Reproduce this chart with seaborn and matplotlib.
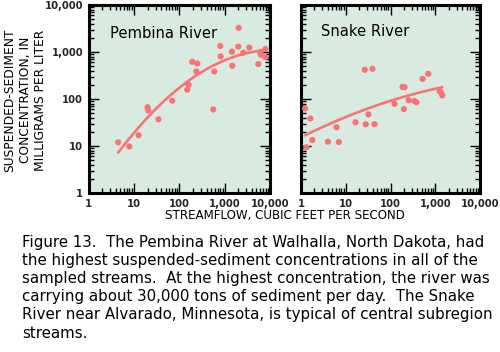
import numpy as np
import pandas as pd
import seaborn as sns
import matplotlib
matplotlib.use("Agg")
import matplotlib.pyplot as plt
from matplotlib.ticker import LogLocator, NullFormatter

# ---- data ----
pembina_flow = [4.5, 7.9, 12.7, 20, 20.7, 35, 70, 150, 161, 194, 250, 237, 562, 592,
                802, 815, 1475, 1450, 2035, 2000, 2580, 3500, 5530, 6120, 6280, 7890, 7890]
pembina_conc = [12, 9.8, 17, 67, 57, 37, 92, 158, 200, 620, 571, 385, 60, 385,
                1344, 807, 509, 1016, 3267, 1300, 968, 1240, 553, 1000, 877, 1158, 781]

snake_flow = [1.23, 1.32, 1.62, 1.79, 4.0, 6.2, 7.0, 16.5, 26.6, 28, 32, 39.5, 44,
              123, 186, 206, 199, 253, 339, 381, 520, 697, 1250, 1340, 1435]
snake_conc = [63, 9.4, 38.5, 13.4, 12.4, 25, 12.2, 32, 418, 29, 47, 440, 29,
              79, 181, 178, 61, 94, 91, 85, 268, 343, 148, 137, 120]

panel_titles = ["Pembina River", "Snake River"]
tick_values = [1, 10, 100, 1000, 10000]
tick_labels = ["1", "10", "100", "1,000", "10,000"]
ylabel_lines = ["SUSPENDED-SEDIMENT", "CONCENTRATION, IN", "MILLIGRAMS PER LITER"]
xlabel = "STREAMFLOW, CUBIC FEET PER SECOND"
caption_lines = [
    "Figure 13.  The Pembina River at Walhalla, North Dakota, had",
    "the highest suspended-sediment concentrations in all of the",
    "sampled streams.  At the highest concentration, the river was",
    "carrying about 30,000 tons of sediment per day.  The Snake",
    "River near Alvarado, Minnesota, is typical of central subregion",
    "streams.",
]

# ---- style ----
sns.set_theme(style="white")
plt.rcParams['font.family'] = ['DejaVu Sans']

W, H = 500, 352
fig = plt.figure(figsize=(W / 100, H / 100), dpi=100)
fig.patch.set_facecolor("white")

BG = "#d9ebe0"
PT = "#f87474"

def px_axes(x0, x1, y0, y1):
    return fig.add_axes([x0 / W, 1 - y1 / H, (x1 - x0) / W, (y1 - y0) / H])

axes = [px_axes(88.5, 270, 5, 193), px_axes(301, 480, 5, 193)]
datasets = [(pembina_flow, pembina_conc), (snake_flow, snake_conc)]
title_pos = [(110, 33), (321, 32)]

for i, (ax, (fx, cy)) in enumerate(zip(axes, datasets)):
    df = pd.DataFrame({"flow": fx, "conc": cy})
    ax.set_facecolor(BG)
    ax.set_xscale("log")
    ax.set_yscale("log")
    # quadratic fit in log-log space (trend line)
    lx, ly = np.log10(df["flow"]), np.log10(df["conc"])
    coef = np.polyfit(lx, ly, 2)
    grid = np.linspace(lx.min(), lx.max(), 100)
    fit = pd.DataFrame({"flow": 10 ** grid, "conc": 10 ** np.polyval(coef, grid)})
    sns.lineplot(data=fit, x="flow", y="conc", ax=ax, color=PT, lw=1.9, zorder=2)
    sns.scatterplot(data=df, x="flow", y="conc", ax=ax, color=PT, s=20,
                    edgecolor="none", zorder=3)
    ax.set_xlabel("")
    ax.set_ylabel("")
    for sp in ax.spines.values():
        sp.set_linewidth(2.2)
        sp.set_color("black")
    ax.xaxis.set_minor_locator(LogLocator(base=10, subs=np.arange(2, 10), numticks=20))
    ax.yaxis.set_minor_locator(LogLocator(base=10, subs=np.arange(2, 10), numticks=20))
    ax.xaxis.set_minor_formatter(NullFormatter())
    ax.yaxis.set_minor_formatter(NullFormatter())
    ax.set_xticks(tick_values, labels=tick_labels, fontweight="bold", fontsize=7.2)
    if i == 0:
        ax.set_yticks(tick_values, labels=tick_labels, fontweight="bold", fontsize=7.2)
    else:
        ax.set_yticks(tick_values, labels=[""] * len(tick_values))
    ax.set_xlim(1, 10000)
    ax.set_ylim(1, 10000)
    ax.tick_params(which="both", direction="in", top=True, right=True,
                   bottom=True, left=True, color="black", width=1.0)
    ax.tick_params(which="major", length=7, pad=4)
    ax.tick_params(which="minor", length=3.5)
    tx, ty = title_pos[i]
    fig.text(tx / W, 1 - ty / H, panel_titles[i], fontsize=10.6, ha="left",
             va="center", color="black")

for k, (line, xc) in enumerate(zip(ylabel_lines, [10, 26, 41])):
    fig.text(xc / W, 1 - 100 / H, line, rotation=90, ha="center", va="center",
             fontsize=8.8, color="black")

fig.text(284.5 / W, 1 - 216 / H, xlabel, ha="center", va="center",
         fontsize=8.6, color="black")

for k, line in enumerate(caption_lines):
    fig.text(22.5 / W, 1 - (242 + k * 18.2) / H, line, ha="left", va="center",
             fontsize=10.8, color="black")

fig.savefig("out.png", dpi=100, facecolor="white")
